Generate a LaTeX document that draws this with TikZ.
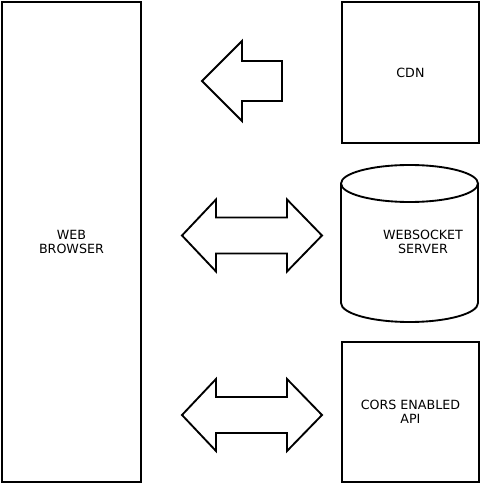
\documentclass[tikz,border=0pt]{standalone}
\usepackage{fontspec}
\setmainfont{DejaVu Sans}

\begin{document}
\begin{tikzpicture}[x=0.75pt, y=-0.75pt]
    \tikzset{
        block/.style={draw, line width=1.4pt, rectangle, anchor=north west,
            inner sep=0pt, align=center, font=\fontsize{9.5}{10.5}\selectfont},
        label text/.style={align=center, inner sep=0pt,
            font=\fontsize{9.5}{10.5}\selectfont},
        block arrow/.style={draw, line width=1.4pt, line join=miter, fill=white},
    }
    \useasboundingbox (0, 0) rectangle (479, 484);

    \node[block, minimum width=139*0.75pt, minimum height=480*0.75pt]
        (browser) at (1, 1) {WEB\\BROWSER};
    \node[block, minimum width=137*0.75pt, minimum height=141*0.75pt]
        (cdn) at (341, 1) {CDN};
    \node[block, minimum width=137*0.75pt, minimum height=140*0.75pt]
        (cors) at (341, 341) {CORS ENABLED\\API};

    % the cylinder is drawn by hand so the ends match the flat look
    \coordinate (ws top) at (409.5, 183.5);
    \coordinate (ws bottom) at (409.5, 303);
    \draw[line width=1.4pt]
        (341, 183.5) -- (341, 303)
        arc[start angle=180, end angle=0, x radius=68.5, y radius=19]
        -- (478, 183.5);
    \draw[line width=1.4pt] (ws top) ellipse[x radius=68.5, y radius=18.5];
    \node[label text] (websocket) at (423, 241.5) {WEBSOCKET\\SERVER};

    % block arrows between the browser and the services
    \draw[block arrow] (202, 81) -- (242, 41) -- (242, 61) -- (282, 61)
        -- (282, 101) -- (242, 101) -- (242, 121) -- cycle;
    \foreach \y in {235.5, 415} {
        \draw[block arrow] (182, \y) -- (216, \y-36) -- (216, \y-18)
            -- (287, \y-18) -- (287, \y-36) -- (322, \y) -- (287, \y+36)
            -- (287, \y+18) -- (216, \y+18) -- (216, \y+36) -- cycle;
    }
\end{tikzpicture}
\end{document}
